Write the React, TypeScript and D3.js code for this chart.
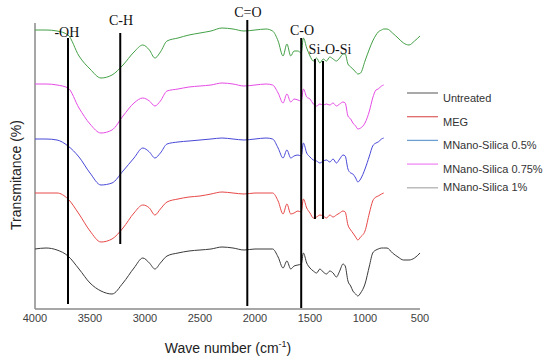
import React, { useRef, useEffect } from "react";
import * as d3 from "d3";

const width = 550;
const height = 360;

// wavenumbers (cm-1) shared by all spectra
const waves = [
  4000, 3900, 3800, 3700, 3600, 3500, 3400, 3300, 3200, 3100,
  3020, 2960, 2910, 2860, 2800, 2700, 2600, 2500, 2400, 2300,
  2200, 2100, 2000, 1900, 1840, 1790, 1745, 1710, 1675, 1645,
  1610, 1580, 1560, 1530, 1500, 1470, 1440, 1410, 1380, 1350,
  1320, 1290, 1260, 1230, 1200, 1180, 1155, 1130, 1110, 1085,
  1065, 1040, 1000, 960, 930, 900, 880, 850, 830, 800,
  750, 700, 650, 600, 550, 500,
];

// transmittance (a.u., stacked with offsets)
const silica1 = [
  279, 279, 278, 274, 253, 240, 231, 234, 244, 257,
  264, 259, 251, 257, 268, 271, 274, 276, 278, 281,
  280, 278, 279, 280, 278, 268, 253, 265, 253, 258,
  258, 256, 271, 261, 253, 248, 251, 246, 250, 248,
  252, 250, 248, 251, 255, 255, 245, 242, 240, 237,
  235, 236, 248, 260, 268, 274, 277, 279, 280, 280,
  276, 271, 266, 264, 268, 273,
];
const silica075 = [
  225, 225, 224, 221, 201, 185, 176, 179, 193, 206,
  211, 208, 203, 208, 218, 220, 222, 223, 224, 226,
  225, 223, 224, 225, 224, 216, 206, 215, 207, 210,
  209, 208, 220, 212, 210, 205, 203, 205, 204, 205,
  204, 206, 203, 205, 207, 206, 193, 190, 186, 183,
  180, 181, 186, 198, 211, 219, 220, 223, 224, null,
  null, null, null, null, null, null,
];
const silica05 = [
  170, 170, 169, 163, 152, 136, 124, 126, 138, 151,
  161, 157, 151, 156, 165, 167, 168, 169, 170, 171,
  170, 169, 170, 171, 170, 161, 151, 159, 151, 153,
  154, 153, 166, 156, 152, 149, 148, 146, 148, 149,
  147, 150, 146, 150, 154, 153, 140, 136, 135, 131,
  127, 130, 140, 153, 163, 166, 167, 170, 171, null,
  null, null, null, null, null, null,
];
const meg = [
  116, 116, 116, 110, 95, 78, 67, 70, 81, 96,
  104, 101, 94, 100, 107, 110, 112, 113, 115, 117,
  116, 115, 116, 116, 116, 108, 95, 105, 95, 96,
  98, 97, 110, 101, 96, 91, 92, 94, 93, 91,
  94, 92, 94, 96, 98, 97, 84, 79, 76, 72,
  69, 72, 78, 96, 108, 112, 113, 115, 116, null,
  null, null, null, null, null, null,
];
const untreated = [
  60, 61, 59, 53, 40, 26, 18, 15, 26, 41,
  51, 46, 40, 46, 53, 56, 58, 59, 60, 62,
  61, 59, 60, 60, 60, 52, 41, 48, 40, 43,
  44, 45, 56, 46, 41, 38, 36, 40, 37, 35,
  38, 36, 32, 38, 45, 43, 28, 23, 18, 15,
  13, 16, 25, 43, 56, 59, 60, 61, 61, 61,
  56, 52, 49, 49, 51, 56,
];

const seriesValues = [silica1, silica075, silica05, meg, untreated];
const seriesColors = ["#43a047", "#e64ce6", "#4848d8", "#e84848", "#3a3a3a"];

const legendNames = ["Untreated", "MEG", "MNano-Silica 0.5%", "MNano-Silica 0.75%", "MNano-Silica 1%"];
const legendColors = ["#7a7a7a", "#e06a6a", "#6d9fd0", "#f08af0", "#b0b0b0"];

// band marker lines
const lineWaves = [3700, 3225, 2070, 1580, 1455, 1382];
const lineTops = [271, 276, 289, 271, 250, 248];
const lineBottoms = [5, 65, 3, 1, 90, 90];

const bandLabels = ["-OH", "C-H", "C=O", "C-O", "Si-O-Si"];
const bandLabelWaves = [3710, 3218, 2064, 1573, 1318];
const bandLabelValues = [272, 284, 292, 274, 255];

const xTicks = [4000, 3500, 3000, 2500, 2000, 1500, 1000, 500];

const App = () => {
  const ref = useRef<SVGSVGElement>(null);

  useEffect(() => {
    if (!ref.current) return;
    const svg = d3.select(ref.current);
    svg.selectAll("*").remove();

    const x = d3.scaleLinear().domain([4000, 500]).range([35, 420]);
    const y = d3.scaleLinear().domain([0, 286]).range([309, 23]);

    // axes lines
    svg.append("line")
      .attr("x1", 35).attr("x2", 35).attr("y1", y(286)).attr("y2", y(0))
      .attr("stroke", "#8a8a8a").attr("stroke-width", 1.5);
    svg.append("line")
      .attr("x1", x(4000)).attr("x2", x(500)).attr("y1", y(0)).attr("y2", y(0))
      .attr("stroke", "#8a8a8a").attr("stroke-width", 1.5);

    svg.append("g")
      .selectAll("text")
      .data(xTicks)
      .join("text")
      .attr("x", (d) => x(d))
      .attr("y", 322)
      .attr("text-anchor", "middle")
      .style("font", "11px 'Liberation Sans', Arial, sans-serif")
      .attr("fill", "#404040")
      .text((d) => d);

    // spectra
    const line = d3.line<number | null>()
      .defined((d) => d != null)
      .x((d, i) => x(waves[i]))
      .y((d) => y(d as number))
      .curve(d3.curveMonotoneX);

    svg.append("g")
      .selectAll("path")
      .data(seriesValues)
      .join("path")
      .attr("d", (d) => line(d))
      .attr("fill", "none")
      .attr("stroke", (d, i) => seriesColors[i])
      .attr("stroke-width", 1);

    // band lines
    svg.append("g")
      .selectAll("line")
      .data(lineWaves)
      .join("line")
      .attr("x1", (d) => x(d)).attr("x2", (d) => x(d))
      .attr("y1", (d, i) => y(lineTops[i]))
      .attr("y2", (d, i) => y(lineBottoms[i]))
      .attr("stroke", "#000")
      .attr("stroke-width", 2);

    svg.append("g")
      .selectAll("text")
      .data(bandLabels)
      .join("text")
      .attr("x", (d, i) => x(bandLabelWaves[i]))
      .attr("y", (d, i) => y(bandLabelValues[i]))
      .attr("text-anchor", "middle")
      .style("font", "14px 'Liberation Serif', 'Times New Roman', serif")
      .attr("fill", "#111")
      .text((d) => d);

    // legend
    const legend = svg.append("g")
      .selectAll("g")
      .data(legendNames)
      .join("g")
      .attr("transform", (d, i) => `translate(407,${93 + i * 23.7})`);
    legend.append("line")
      .attr("x1", 0).attr("x2", 31)
      .attr("stroke", (d, i) => legendColors[i])
      .attr("stroke-width", 1.3);
    legend.append("text")
      .attr("x", 36)
      .attr("y", (d, i) => (i === 4 ? 3 : 9))
      .style("font", "11px 'Liberation Sans', Arial, sans-serif")
      .attr("fill", "#333")
      .text((d) => d);

    // axis titles
    const xt = svg.append("text")
      .attr("x", 228).attr("y", 353)
      .attr("text-anchor", "middle")
      .style("font", "14px 'Liberation Sans', Arial, sans-serif")
      .attr("fill", "#222");
    xt.append("tspan").text("Wave number (cm");
    xt.append("tspan").attr("dy", -6).style("font-size", "9px").text("-1");
    xt.append("tspan").attr("dy", 6).text(")");

    svg.append("text")
      .attr("transform", "translate(21,175) rotate(-90)")
      .attr("text-anchor", "middle")
      .style("font", "14px 'Liberation Sans', Arial, sans-serif")
      .attr("fill", "#222")
      .text("Transmitance (%)");
  }, []);

  return (
    <svg
      ref={ref}
      width={width}
      height={height}
      style={{ position: "absolute", left: 0, top: 0, background: "#fff" }}
    />
  );
};

export default App;
